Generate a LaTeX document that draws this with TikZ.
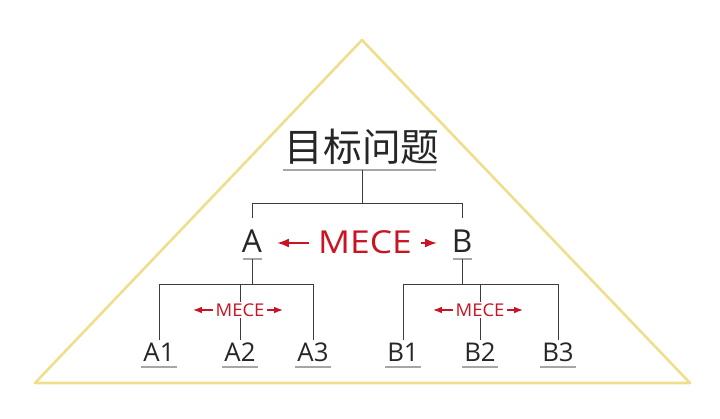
\documentclass[tikz,border=0pt]{standalone}
\usepackage{fontspec}
\setmainfont{Open Sans}
\newfontfamily\cjk{Noto Sans CJK SC}
\usetikzlibrary{arrows.meta,positioning}

\definecolor{pyramid}{RGB}{240,222,140}
\definecolor{meceRed}{RGB}{200,20,35}
\definecolor{lineGray}{RGB}{60,60,60}

\begin{document}
\begin{tikzpicture}[
    x=0.03cm, y=-0.03cm,
    >=Latex,
    link/.style={draw=lineGray, line width=0.8pt},
    uline/.style={draw=gray!70, line width=0.9pt},
    item/.style={inner sep=0pt, font=\fontsize{27}{27}\selectfont, text=black!85},
    leaf/.style={inner sep=0pt, font=\fontsize{22}{22}\selectfont, text=black!85},
    mece/.style={inner sep=0pt, text=meceRed}
]
    % --- 背景與外框 ---
    \useasboundingbox (0,0) rectangle (720,419);
    \draw[pyramid, line width=2.2pt, line join=round] (362,40) -- (35,383) -- (690,383) -- cycle;

    % --- 標題 ---
    \node[inner sep=0pt, font=\cjk\fontsize{33}{33}\selectfont, text=black!85] (goal) at (362,147) {目标问题};
    \draw[uline] (283,170) -- (436,170);
    \coordinate (goalDown) at (362,170);

    % --- 第二層 A, B ---
    \node[item] (A) at (252,241) {A};
    \node[item] (B) at (462,241) {B};
    \draw[uline] (243,259) -- (262,259);
    \draw[uline] (453,259) -- (472,259);
    \draw[link] (goalDown) -- (362,203) -| (A.north |- 0,218);
    \draw[link] (362,203) -| (B.north |- 0,218);

    % 大 MECE
    \node[mece, font=\fontsize{27}{27}\selectfont, xscale=1.12] (meceAB) at (365,242) {MECE};
    \draw[meceRed, line width=1.6pt, ->] (309,243) -- (277,243);
    \draw[meceRed, line width=1.6pt, ->] (421,243) -- (437,243);

    % --- 第三層 ---
    \foreach \name/\x in {A1/159, A2/240, A3/313, B1/403, B2/480, B3/558} {
        \node[leaf] (\name) at (\x,352) {\name};
        \draw[uline] (\x-18,367) -- (\x+18,367);
    }

    % A 的分支
    \draw[link] (252,259) -- (252,284);
    \draw[link] (A1.north |- 0,340) -- (159,284) -- (313,284) -- (A3.north |- 0,340);
    \draw[link] (240,284) -- (A2.north |- 0,340);
    % B 的分支
    \draw[link] (462,259) -- (462,284);
    \draw[link] (B1.north |- 0,340) -- (403,284) -- (558,284) -- (B3.north |- 0,340);
    \draw[link] (480,284) -- (B2.north |- 0,340);

    % 小 MECE
    \foreach \n/\x in {meceA/240, meceB/480} {
        \node[mece, fill=white, inner sep=1pt, font=\fontsize{15}{15}\selectfont, xscale=1.05] (\n) at (\x,310) {MECE};
        \draw[meceRed, line width=1pt, ->] (\x-27,310) -- (\x-47,310);
        \draw[meceRed, line width=1pt, ->] (\x+27,310) -- (\x+43,310);
    }
\end{tikzpicture}
\end{document}
